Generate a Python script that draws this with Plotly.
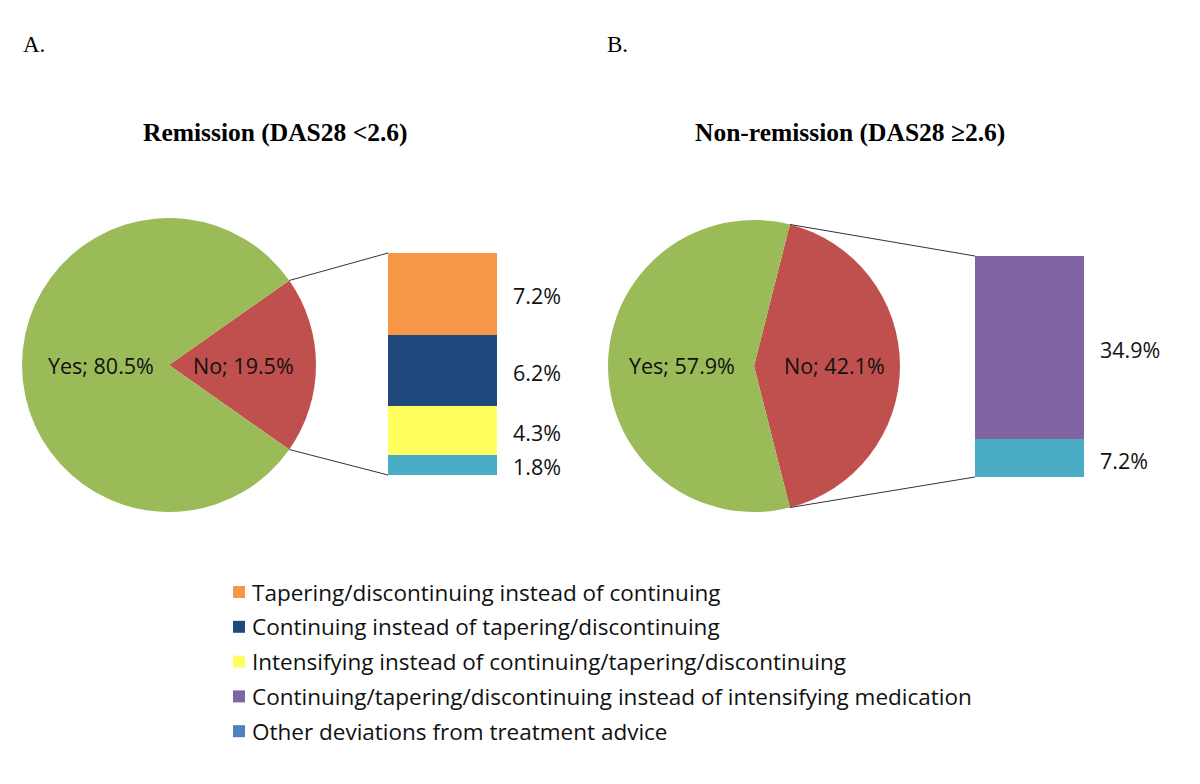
import math
import plotly.graph_objects as go

# page is 1200x784; the browser's default 8px body margin is compensated for
PAGE_W, PAGE_H, OFF = 1200, 784, 8
FW, FH = PAGE_W - 2 * OFF, PAGE_H - 2 * OFF

# ---- data ----
pie_labels = ["No", "Yes"]
pie_a = [19.5, 80.5]
pie_b = [42.1, 57.9]
pie_colors = ["#C0504D", "#9BBB59"]

panel_letters = ["A.", "B."]
panel_titles = ["Remission (DAS28 <2.6)", "Non-remission (DAS28 \u22652.6)"]

legend_labels = [
    "Tapering/discontinuing instead of continuing",
    "Continuing instead of tapering/discontinuing",
    "Intensifying instead of continuing/tapering/discontinuing",
    "Continuing/tapering/discontinuing instead of intensifying medication",
    "Other deviations from treatment advice",
]
legend_colors = ["#F79646", "#1F497D", "#FFFF5F", "#8064A2", "#4F81BD"]

# bar breakdowns (bottom to top)
bar_a_cats = ["Other", "Intensifying", "Continuing", "Tapering"]
bar_a_vals = [1.8, 4.3, 6.2, 7.2]
bar_a_colors = ["#4BACC6", "#FFFF5F", "#1F497D", "#F79646"]
bar_b_cats = ["Other", "Continuing/tapering"]
bar_b_vals = [7.2, 34.9]
bar_b_colors = ["#4BACC6", "#8064A2"]


def px(x):
    return (x - OFF) / FW


def py(y):
    return 1 - (y - OFF) / FH


SANS = "Open Sans, Noto Sans, sans-serif"
SERIF = "Liberation Serif, Times New Roman, serif"

fig = go.Figure()

# ---- pies ----
pie_specs = [
    dict(vals=pie_a, cx=169, cy=365, r=147, off_yes=-68, off_no=74),
    dict(vals=pie_b, cx=754, cy=366, r=146, off_yes=-72, off_no=80),
]
label_font = dict(family=SANS, size=21.5, color="#111")
for spec in pie_specs:
    no_frac = spec["vals"][0] / sum(spec["vals"])
    fig.add_trace(go.Pie(
        labels=pie_labels, values=spec["vals"], sort=False, direction="clockwise",
        rotation=90 - no_frac * 180,
        marker=dict(colors=pie_colors, line=dict(width=0)),
        textinfo="none", hoverinfo="label+percent", showlegend=False,
        domain=dict(x=[px(spec["cx"] - spec["r"]), px(spec["cx"] + spec["r"])],
                    y=[py(spec["cy"] + spec["r"]), py(spec["cy"] - spec["r"])]),
    ))
    vals = spec["vals"]
    fig.add_annotation(x=px(spec["cx"] + spec["off_yes"]), y=py(spec["cy"]), xref="paper", yref="paper",
                       text=f"{pie_labels[1]}; {vals[1]}%", showarrow=False, font=label_font,
                       xanchor="center", yanchor="middle")
    fig.add_annotation(x=px(spec["cx"] + spec["off_no"]), y=py(spec["cy"]), xref="paper", yref="paper",
                       text=f"{pie_labels[0]}; {vals[0]}%", showarrow=False, font=label_font,
                       xanchor="center", yanchor="middle")

# ---- bars ----
bar_specs = [
    dict(cats=bar_a_cats, vals=bar_a_vals, colors=bar_a_colors,
         x0=388, x1=497, y0=253, y1=475, xa="x", ya="y"),
    dict(cats=bar_b_cats, vals=bar_b_vals, colors=bar_b_colors,
         x0=975, x1=1084, y0=256, y1=477, xa="x2", ya="y2"),
]
for i, bs in enumerate(bar_specs):
    for c, v, col in zip(bs["cats"], bs["vals"], bs["colors"]):
        fig.add_trace(go.Bar(x=[""], y=[v], name=c, marker=dict(color=col, line=dict(width=0)),
                             xaxis=bs["xa"], yaxis=bs["ya"], showlegend=False,
                             hovertemplate=f"{c}: {v}%<extra></extra>"))
    total = sum(bs["vals"])
    cum = 0
    for v in bs["vals"]:
        fig.add_annotation(x=px(bs["x1"] + 14), xref="paper", y=cum + v / 2, yref=bs["ya"],
                           text=f"{v}%", showarrow=False, xanchor="left", yanchor="middle",
                           yshift=-2, font=dict(family=SANS, size=21.5, color="#111"))
        cum += v
    suffix = "" if i == 0 else "2"
    fig.update_layout(**{
        f"xaxis{suffix}": dict(domain=[px(bs["x0"]), px(bs["x1"])], visible=False,
                               fixedrange=True, anchor=bs["ya"]),
        f"yaxis{suffix}": dict(domain=[py(bs["y1"]), py(bs["y0"])], range=[0, total],
                               visible=False, fixedrange=True, anchor=bs["xa"]),
    })
    # connector lines from the "No" wedge edges to the bar corners
    ps = pie_specs[i]
    no_frac = ps["vals"][0] / sum(ps["vals"])
    ang = math.pi * no_frac
    ex = ps["cx"] + ps["r"] * math.cos(ang)
    ey_top = ps["cy"] - ps["r"] * math.sin(ang)
    ey_bot = ps["cy"] + ps["r"] * math.sin(ang)
    for (ya, yb) in [(ey_top, bs["y0"]), (ey_bot, bs["y1"])]:
        fig.add_shape(type="line", xref="paper", yref="paper",
                      x0=px(ex), y0=py(ya), x1=px(bs["x0"]), y1=py(yb),
                      line=dict(color="#333", width=1))

fig.update_layout(bargap=0, barmode="stack")

# ---- titles & panel letters ----
for letter, lx in zip(panel_letters, [21, 605]):
    fig.add_annotation(x=px(lx), y=py(44), xref="paper", yref="paper", text=letter,
                       showarrow=False, xanchor="left", yanchor="middle",
                       font=dict(family=SERIF, size=23, color="#000"))
for title, tx in zip(panel_titles, [275, 850]):
    fig.add_annotation(x=px(tx), y=py(132), xref="paper", yref="paper", text=f"<b>{title}</b>",
                       showarrow=False, xanchor="center", yanchor="middle",
                       font=dict(family=SERIF, size=25.5, color="#000"))

# ---- legend ----
for k, (lab, col) in enumerate(zip(legend_labels, legend_colors)):
    yc = 592 + k * 34.8
    fig.add_shape(type="rect", xref="paper", yref="paper",
                  x0=px(233), x1=px(245), y0=py(yc + 6), y1=py(yc - 6),
                  fillcolor=col, line=dict(width=0))
    fig.add_annotation(x=px(250), y=py(yc), xref="paper", yref="paper", text=lab,
                       showarrow=False, xanchor="left", yanchor="middle",
                       font=dict(family=SANS, size=22.5, color="#111"))

fig.update_layout(width=FW, height=FH, margin=dict(l=0, r=0, t=0, b=0),
                  paper_bgcolor="white", plot_bgcolor="white", showlegend=False)

fig.write_html("out.html")
